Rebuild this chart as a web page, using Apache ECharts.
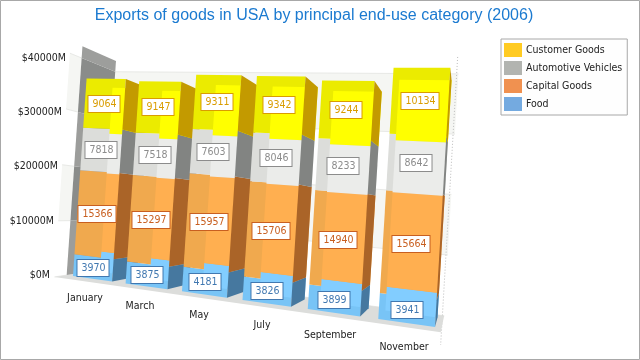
<!DOCTYPE html>
<html>
<head>
<meta charset="utf-8">
<title>Exports of goods in USA</title>
<script src="https://cdn.jsdelivr.net/npm/echarts@6/dist/echarts.min.js"></script>
<style>
  html, body { margin: 0; padding: 0; background: #fff; }
  #chart { width: 640px; height: 360px; }
</style>
</head>
<body>
<div id="chart"></div>
<script>
const months = ['January', 'March', 'May', 'July', 'September', 'November']
const food = [3970, 3875, 4181, 3826, 3899, 3941]
const capitalGoods = [15366, 15297, 15957, 15706, 14940, 15664]
const automotiveVehicles = [7818, 7518, 7603, 8046, 8233, 8642]
const customerGoods = [9064, 9147, 9311, 9342, 9244, 10134]
const valueTicks = [0, 10000, 20000, 30000, 40000]
const tickLabels = ['$0M', '$10000M', '$20000M', '$30000M', '$40000M']

const SMALL_FAMILY = 'DejaVu Sans Condensed'
const FONT = '10.5px "' + SMALL_FAMILY + '", sans-serif'
const GRID = { left: 0, top: 0, width: 600, height: 300 }

// the flat grid is tilted on to the picture by a perspective projection
const PLANE_FROM = [[12.5, 300], [587.5, 300], [587.5, 0], [12.5, 0]]
const PLANE_TO = [[73, 276], [435, 327], [451, 57], [88, 58]]
const VANISH = [465, 215]
const DEPTH_OUTER = -0.03
const DEPTH_BAR = 0.074
const DEPTH_WALL = 0.097
const WALL_OVERHANG = 42200
const RIGHT_EDGE = 5.96
const BAR_FROM = 0.125
const BAR_TO = 0.875

function solve(a, b) {
  const n = b.length
  for (let c = 0; c < n; c++) {
    let p = c
    for (let r = c + 1; r < n; r++) if (Math.abs(a[r][c]) > Math.abs(a[p][c])) p = r
    ;[a[c], a[p]] = [a[p], a[c]]
    ;[b[c], b[p]] = [b[p], b[c]]
    for (let r = 0; r < n; r++) {
      if (r === c) continue
      const f = a[r][c] / a[c][c]
      for (let k = c; k < n; k++) a[r][k] -= f * a[c][k]
      b[r] -= f * b[c]
    }
  }
  return b.map((v, i) => v / a[i][i])
}

function planeMatrix() {
  const a = []
  const b = []
  PLANE_FROM.forEach((s, i) => {
    const d = PLANE_TO[i]
    a.push([s[0], s[1], 1, 0, 0, 0, -s[0] * d[0], -s[1] * d[0]])
    b.push(d[0])
    a.push([0, 0, 0, s[0], s[1], 1, -s[0] * d[1], -s[1] * d[1]])
    b.push(d[1])
  })
  const m = solve(a, b)
  const z0 = m[6] * PLANE_FROM[0][0] + m[7] * PLANE_FROM[0][1] + 1
  return m.concat(1).map(v => v / z0)
}
const H = planeMatrix()

function project(p, w) {
  const x = H[0] * p[0] + H[1] * p[1] + H[2]
  const y = H[3] * p[0] + H[4] * p[1] + H[5]
  const z = H[6] * p[0] + H[7] * p[1] + H[8]
  return [(x + w * VANISH[0]) / (z + w), (y + w * VANISH[1]) / (z + w)]
}

function poly(points, fill, z2) {
  return { type: 'polygon', silent: true, z2: z2, shape: { points: points }, style: { fill: fill } }
}

const palette = {
  customer: { legend: '#ffcb22', band: '#ebeb00', inner: '#ffff00', side: '#c39a00', line: '#d99c00' },
  automotive: { legend: '#b2b4b0', band: '#dcddda', inner: '#ebecea', side: '#828482', line: '#8c8c8c' },
  capital: { legend: '#f09150', band: '#f0a94e', inner: '#ffaf50', side: '#aa6428', line: '#c85f20' },
  food: { legend: '#74aae0', band: '#78c4f6', inner: '#82cdff', side: '#46789f', line: '#4178b0' }
}

function segments(values, below) {
  return months.map((m, i) => {
    const base = below.reduce((sum, arr) => sum + arr[i], 0)
    return [i, base, base + values[i], values[i]]
  })
}

function barItem(colors) {
  return function(params, api) {
    const i = api.value(0)
    const low = api.value(1)
    const high = api.value(2)
    const band = api.size([1, 0])[0]
    const at = (frac, v, w) => {
      const p = api.coord([i, v])
      return project([p[0] + (frac - 0.5) * band, p[1]], w)
    }
    const z = i * 10
    const quad = w => [at(BAR_FROM, low, w), at(BAR_TO, low, w), at(BAR_TO, high, w), at(BAR_FROM, high, w)]
    const center = at(0.5, (low + high) / 2, 0)
    return {
      type: 'group',
      children: [
        poly(quad(0), colors.band, z),
        poly(quad(DEPTH_BAR), colors.inner, z + 1),
        poly([at(BAR_TO, low, 0), at(BAR_TO, low, DEPTH_BAR), at(BAR_TO, high, DEPTH_BAR), at(BAR_TO, high, 0)], colors.side, z + 2),
        {
          type: 'text',
          silent: true,
          z2: 500,
          x: Math.round(center[0]),
          y: Math.round(center[1]),
          style: {
            text: String(api.value(3)),
            font: FONT,
            fill: colors.line,
            align: 'center',
            verticalAlign: 'middle',
            backgroundColor: '#fff',
            borderColor: colors.line,
            borderWidth: 1,
            padding: [3, 3, 2, 4]
          }
        }
      ]
    }
  }
}

function wallsItem(params, api) {
  const band = api.size([1, 0])[0]
  const at = (u, v, w) => {
    const p = api.coord([0, v])
    return project([p[0] + (u - 0.5) * band, p[1]], w)
  }
  const children = []
  const lineStyle = { stroke: '#e8e9e6', lineWidth: 1, fill: null }

  // back wall and the outer strip, white and grey in turn
  for (let t = 0; t < valueTicks.length - 1; t++) {
    const a = valueTicks[t]
    const b = valueTicks[t + 1]
    const fill = t % 2 ? '#f5f6f3' : '#ffffff'
    children.push(poly([at(0, a, DEPTH_WALL), at(RIGHT_EDGE, a, DEPTH_WALL), at(RIGHT_EDGE, b, DEPTH_WALL), at(0, b, DEPTH_WALL)], fill, 1))
    children.push(poly([at(0, a, DEPTH_OUTER), at(0, a, 0), at(0, b, 0), at(0, b, DEPTH_OUTER)], fill, 1))
  }
  valueTicks.forEach(v => {
    children.push({ type: 'polyline', silent: true, z2: 2, shape: { points: [at(0, v, DEPTH_OUTER), at(0, v, 0)] }, style: lineStyle })
    children.push({ type: 'polyline', silent: true, z2: 2, shape: { points: [at(0, v, DEPTH_WALL), at(RIGHT_EDGE, v, DEPTH_WALL)] }, style: lineStyle })
  })

  // floor
  children.push(poly([at(0, 0, DEPTH_OUTER), at(RIGHT_EDGE, 0, DEPTH_OUTER), at(RIGHT_EDGE, 0, DEPTH_WALL), at(0, 0, DEPTH_WALL)], '#dcdddb', 3))

  // left wall
  for (let t = 0; t < valueTicks.length - 1; t++) {
    const a = valueTicks[t]
    const b = valueTicks[t + 1]
    children.push(poly([at(0, a, 0), at(0, a, DEPTH_WALL), at(0, b, DEPTH_WALL), at(0, b, 0)], t % 2 ? '#8a8c8a' : '#9c9d9b', 4))
  }
  const top = valueTicks[valueTicks.length - 1]
  children.push(poly([at(0, top, 0), at(0, top, DEPTH_WALL), at(0, WALL_OVERHANG, DEPTH_WALL), at(0, WALL_OVERHANG, 0)], '#9d9e9c', 4))

  // dotted right edge
  children.push({
    type: 'polyline',
    silent: true,
    z2: 2,
    shape: { points: [at(RIGHT_EDGE, top, 0), at(RIGHT_EDGE, -2500, 0)] },
    style: { stroke: '#bcbcbc', lineWidth: 1, lineDash: [1, 2], fill: null }
  })

  // tick labels
  valueTicks.forEach((v, k) => {
    const outer = at(0, v, DEPTH_OUTER)
    const front = at(0, v, 0)
    children.push({
      type: 'text',
      silent: true,
      z2: 5,
      x: Math.round(outer[0] - 4),
      y: Math.round(front[1]),
      style: { text: tickLabels[k], font: FONT, fill: '#222', align: 'right', verticalAlign: 'middle' }
    })
  })

  // category labels
  months.forEach((m, k) => {
    const p = at(k + 0.5, -3200, -0.015)
    children.push({
      type: 'text',
      silent: true,
      z2: 5,
      x: Math.round(p[0]),
      y: Math.round(p[1]),
      style: { text: m, font: FONT, fill: '#222', align: 'center', verticalAlign: 'middle' }
    })
  })
  return { type: 'group', children: children }
}

function barSeries(name, colors, values, below) {
  return {
    name: name,
    type: 'custom',
    coordinateSystem: 'cartesian2d',
    renderItem: barItem(colors),
    itemStyle: { color: colors.legend },
    clip: false,
    encode: { x: 0, y: 2 },
    data: segments(values, below),
    z: 3
  }
}

const chart = echarts.init(document.getElementById('chart'))
chart.setOption({
  animation: false,
  backgroundColor: '#fff',
  title: {
    text: 'Exports of goods in USA by principal end-use category (2006)',
    left: 314,
    top: 8,
    textAlign: 'center',
    padding: 0,
    textStyle: { color: '#1b7ad0', fontSize: 16, fontWeight: 'normal', fontFamily: 'Liberation Sans' }
  },
  legend: {
    orient: 'vertical',
    icon: 'rect',
    left: 501,
    top: 39,
    padding: [4, 5, 4, 3],
    itemWidth: 18,
    itemHeight: 14,
    itemGap: 4,
    borderColor: '#a8a8a8',
    borderWidth: 1,
    backgroundColor: '#fefefe',
    selectedMode: false,
    data: ['Customer Goods', 'Automotive Vehicles', 'Capital Goods', 'Food'],
    textStyle: { color: '#222', fontSize: 10.5, fontFamily: SMALL_FAMILY, padding: [0, 0, 0, -1] }
  },
  grid: { left: GRID.left, top: GRID.top, width: GRID.width, height: GRID.height, show: false },
  xAxis: { type: 'category', data: months, show: false },
  yAxis: { type: 'value', min: 0, max: 40000, interval: 10000, show: false },
  graphic: [{
    type: 'rect',
    silent: true,
    shape: { x: 0.5, y: 0.5, width: 639, height: 359 },
    style: { fill: null, stroke: '#a8a8a8', lineWidth: 1 }
  }],
  series: [
    {
      type: 'custom',
      coordinateSystem: 'cartesian2d',
      renderItem: wallsItem,
      clip: false,
      data: [[0, 0]],
      z: 1
    },
    barSeries('Food', palette.food, food, []),
    barSeries('Capital Goods', palette.capital, capitalGoods, [food]),
    barSeries('Automotive Vehicles', palette.automotive, automotiveVehicles, [food, capitalGoods]),
    barSeries('Customer Goods', palette.customer, customerGoods, [food, capitalGoods, automotiveVehicles])
  ]
})
</script>
</body>
</html>
